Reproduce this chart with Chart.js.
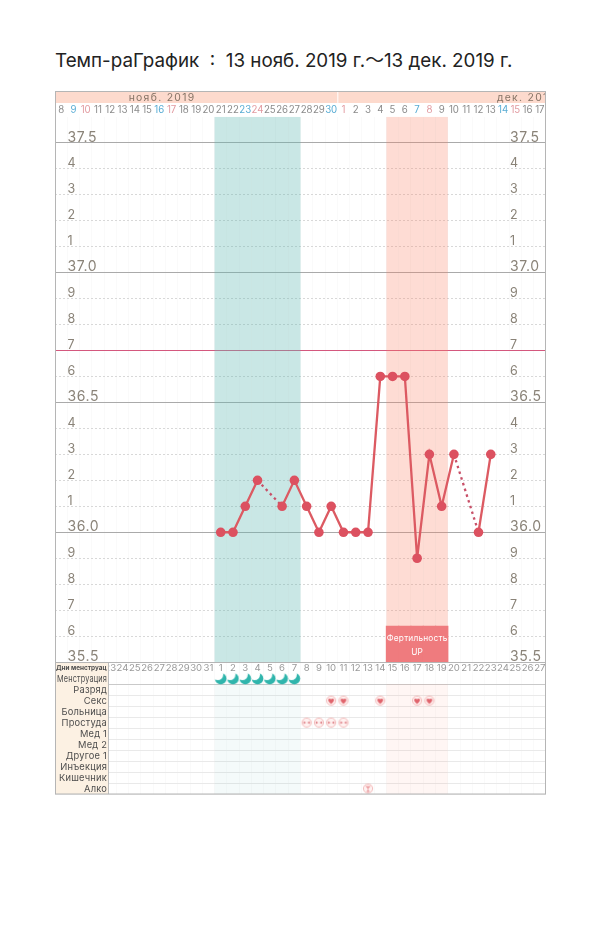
<!DOCTYPE html>
<html><head><meta charset="utf-8">
<style>
html,body{margin:0;padding:0;background:#fff;width:600px;height:938px;overflow:hidden}
#title{position:absolute;left:55px;top:48px;font:18.8px/26px Inter,"Noto Sans","Noto Sans CJK JP",sans-serif;color:#222;white-space:pre}
canvas{position:absolute;left:0;top:0}
</style>
<script src="https://cdn.jsdelivr.net/npm/chart.js@4"></script>
</head><body>
<div id="title">Темп-раГрафик  :  13 нояб. 2019 г.～13 дек. 2019 г.</div>
<canvas id="c" width="600" height="938"></canvas>
<script>
const dayLabels = ['8','9','10','11','12','13','14','15','16','17','18','19','20','21','22','23','24','25','26','27','28','29','30','1','2','3','4','5','6','7','8','9','10','11','12','13','14','15','16','17'];
const cycleLabels = [null,null,null,null,'23','24','25','26','27','28','29','30','31','1','2','3','4','5','6','7','8','9','10','11','12','13','14','15','16','17','18','19','20','21','22','23','24','25','26','27'];
const temperatures = [null,null,null,null,null,null,null,null,null,null,null,null,null,36.0,36.0,36.1,36.2,null,36.1,36.2,36.1,36.0,36.1,36.0,36.0,36.0,36.6,36.6,36.6,35.9,36.3,36.1,36.3,null,36.0,36.3,null,null,null,null];
const rowLabels = ['Дни менструац','Менструация','Разряд','Секс','Больница','Простуда','Мед 1','Мед 2','Другое 1','Инъекция','Кишечник','Алко'];
const periodCycleDays = [1,2,3,4,5,6,7];
const fertileCycleDays = [15,16,17,18,19];
const sexCycleDays = [10,11,14,17,18];
const coldCycleDays = [8,9,10,11];
const alcoholCycleDays = [13];
const coverTemp = 36.7;
const tempMin = 35.5, tempMax = 37.6, fertileTop = 35.638;
const months = [{name:'нояб. 2019',first:0,last:22,textAt:6},{name:'дек. 2019',first:23,last:39,textAt:36}];

const FONT = 'Inter,"Noto Sans",sans-serif';
const C1 = cycleLabels.indexOf('1');
const idx = d => C1 + d - 1;
const onDays = (days, v) => dayLabels.map((_, i) => days.map(idx).includes(i) ? v : null);

function icon(w, h, draw){
  const c = document.createElement('canvas'); c.width = w; c.height = h;
  draw(c.getContext('2d'), w/2, h/2); return c;
}
function ring(g,x,y){ g.beginPath(); g.arc(x,y,4.6,0,Math.PI*2); g.fillStyle='#fff2f1'; g.fill(); g.lineWidth=0.9; g.strokeStyle='#f0b4b4'; g.stroke(); }
const moon = icon(13,13,(g)=>{
  g.fillStyle='#2fb5ac'; g.beginPath(); g.arc(6.5,6.5,5.8,0,Math.PI*2); g.fill();
  g.globalCompositeOperation='destination-out';
  g.beginPath(); g.arc(3.6,2.6,5.4,0,Math.PI*2); g.fill();
});
const heart = icon(12,12,(g,x,y)=>{
  ring(g,x,y);
  g.fillStyle='#e0646c'; g.beginPath(); g.moveTo(x,y+3.2);
  g.bezierCurveTo(x-5,y-0.4,x-2.4,y-3.6,x,y-1.4);
  g.bezierCurveTo(x+2.4,y-3.6,x+5,y-0.4,x,y+3.2); g.fill();
});
const cold = icon(12,12,(g,x,y)=>{
  ring(g,x,y);
  g.fillStyle='#e0848a';
  g.beginPath(); g.moveTo(x-0.5,y); g.lineTo(x-3.2,y-1.5); g.lineTo(x-3.2,y+1.5); g.fill();
  g.beginPath(); g.moveTo(x+0.5,y); g.lineTo(x+3.2,y-1.5); g.lineTo(x+3.2,y+1.5); g.fill();
});
const glass = icon(12,12,(g,x,y)=>{
  ring(g,x,y);
  g.strokeStyle='#e0848a'; g.lineWidth=0.9; g.fillStyle='#eda0a4';
  g.beginPath(); g.moveTo(x-2.8,y-2.4); g.lineTo(x+2.8,y-2.4); g.lineTo(x,y+0.6); g.closePath(); g.fill();
  g.beginPath(); g.moveTo(x,y+0.6); g.lineTo(x,y+2.8); g.moveTo(x-1.5,y+2.9); g.lineTo(x+1.5,y+2.9); g.stroke();
});

const symbolSet = (data, pic) => ({type:'line', data, yAxisID:'rows', showLine:false, pointStyle:pic, pointRadius:5, pointHoverRadius:5, order:0});
const band = (days, range, color, yAxisID, order, inflate) => ({type:'bar', data:onDays(days, range), yAxisID, backgroundColor:color, borderWidth:0, inflateAmount:inflate, barPercentage:1, categoryPercentage:1, grouped:false, order:order});

const decor = {
  id:'decor',
  beforeDatasetsDraw(ch){
    const g = ch.ctx, x = ch.scales.x;
    g.save();
    const step = x.getPixelForValue(1) - x.getPixelForValue(0);
    months.forEach(m=>{
      const l = x.getPixelForValue(m.first) - step/2, r = x.getPixelForValue(m.last) + step/2;
      g.fillStyle = '#fddacd';
      g.fillRect(l + (m.first ? 1 : 0), 91, r - l - (m.first ? 1 : 0), 12);
    });
    g.restore();
  },
  afterDatasetsDraw(ch){
    const g = ch.ctx, x = ch.scales.x, y = ch.scales.y, rows = ch.scales.rows, a = ch.chartArea;
    const step = x.getPixelForValue(1) - x.getPixelForValue(0);
    const colRight = 108;
    g.save();
    g.font = '10.4px '+FONT; g.letterSpacing = '1.3px'; g.fillStyle = '#857365'; g.textBaseline='middle'; g.textAlign='left';
    g.save(); g.beginPath(); g.rect(a.left, 91, a.right-a.left, 12); g.clip();
    months.forEach(m => g.fillText(m.name, x.getPixelForValue(m.textAt) - step/2, 97.5));
    g.restore();
    g.fillStyle = '#8a8378';
    y.ticks.forEach(t=>{
      if (!t.label) return;
      const major = t.label.length > 1, py = y.getPixelForValue(t.value);
      g.font = (major ? '14px ' : '12.5px ') + FONT; g.letterSpacing = major ? '0.6px' : '0px';
      g.fillText(t.label, a.left + 12.5, py - 5.3);
      g.fillText(t.label, a.left + 455, py - 5.3);
    });
    const fx = (x.getPixelForValue(idx(fertileCycleDays[0])) + x.getPixelForValue(idx(fertileCycleDays[4])))/2;
    g.fillStyle='#fff'; g.textAlign='center'; g.font='8.3px '+FONT; g.letterSpacing='0.2px';
    g.fillText('Фертильность', fx, 638.5); g.fillText('UP', fx, 652.5);
    g.letterSpacing='0px'; g.font='9.6px '+FONT; g.fillStyle='#9a9a9a';
    const h0 = rows.getPixelForValue(0.5);
    g.save(); g.beginPath(); g.rect(colRight, rows.top, a.right-colRight, 11); g.clip();
    cycleLabels.forEach((s,i)=>{ if(s) g.fillText(s, x.getPixelForValue(i), h0+0.5); });
    g.restore();
    g.fillStyle='#fcf1e3'; g.fillRect(a.left, rows.top, colRight-a.left, rows.bottom-rows.top);
    g.strokeStyle='#bdbdbd'; g.lineWidth=1; g.beginPath(); g.moveTo(colRight+.5, rows.top); g.lineTo(colRight+.5, rows.bottom); g.stroke();
    g.save(); g.beginPath(); g.rect(a.left, rows.top, colRight-a.left, rows.bottom-rows.top); g.clip();
    rowLabels.forEach((s,i)=>{
      const py = rows.getPixelForValue(i+0.5);
      g.fillStyle='#4d4d4d';
      if(i===0){ g.font='bold 6.4px '+FONT; g.textAlign='left'; g.letterSpacing='0px'; g.fillText(s, a.left+1, py+0.5); }
      else { g.font='9.3px '+FONT; g.textAlign='right'; g.letterSpacing='0.2px'; g.fillText(s, colRight-1, py+1, 50); }
    });
    g.restore();
    g.strokeStyle='#b5b5b5'; g.lineWidth=1; g.letterSpacing='0px';
    g.strokeRect(a.left+.5, 91.5, a.right-a.left-1, rows.bottom-91.5);
    g.beginPath(); g.moveTo(a.left, Math.round(rows.top)+.5); g.lineTo(a.right, Math.round(rows.top)+.5); g.stroke();
    g.restore();
  }
};

const isGap = c => c.p0.skip || c.p1.skip;

new Chart(document.getElementById('c'), {
  data:{
    labels:dayLabels,
    datasets:[
      band(periodCycleDays,[tempMin,tempMax],'rgba(100,185,180,0.35)','y',5,0),
      band(fertileCycleDays,[tempMin,tempMax],'rgba(250,130,100,0.28)','y',5,0),
      band(fertileCycleDays,[tempMin,fertileTop],'#ef7b7e','y',4,0.6),
      band(periodCycleDays,[2,12],'rgba(100,185,180,0.07)','rows',5,0),
      band(fertileCycleDays,[2,12],'rgba(250,130,100,0.07)','rows',5,0),
      {type:'line',data:temperatures,yAxisID:'y',spanGaps:true,borderColor:'#dc5a62',borderWidth:2.3,backgroundColor:'#dc5160',
       pointRadius:4.8,pointBorderWidth:0,pointHoverRadius:4.8,tension:0,order:1,
       segment:{borderDash:c=>isGap(c)?[2.5,3.5]:undefined,borderColor:c=>isGap(c)?'#c85068':undefined}},
      symbolSet(onDays(periodCycleDays,1.5),moon),
      symbolSet(onDays(sexCycleDays,3.5),heart),
      symbolSet(onDays(coldCycleDays,5.5),cold),
      symbolSet(onDays(alcoholCycleDays,11.5),glass)
    ]
  },
  options:{
    responsive:false,animation:false,events:[],
    layout:{padding:{left:55,right:54,top:91,bottom:144}},
    plugins:{legend:{display:false},title:{display:false},tooltip:{enabled:false}},
    scales:{
      x:{type:'category',position:'top',offset:true,
         afterFit(s){s.height=25.7;},
         border:{display:false},
         grid:{drawTicks:false,color:'#fafafa',lineWidth:1},
         ticks:{autoSkip:false,maxRotation:0,padding:1,font:{size:9.7,family:FONT},
           color:c=>c.index%7===1?'#58acd4':c.index%7===2?'#e29aa0':'#8b8b8b'}},
      y:{type:'linear',position:'left',stack:'panels',stackWeight:546,weight:2,min:tempMin,max:tempMax,
         afterFit(s){s.width=0;},
         border:{display:false,dash:c=>{const v=Math.round(c.tick.value*10);return (v%5===0||v===Math.round(coverTemp*10))?[]:[2,2];}},
         grid:{drawTicks:false,
           color:c=>{const v=Math.round(c.tick.value*10);if(v===Math.round(tempMax*10))return 'transparent';if(v===Math.round(coverTemp*10))return '#d4587e';return v%5===0?'#aaaaaa':'#d8d8d8';},
           lineWidth:1},
         ticks:{display:false,stepSize:0.1,autoSkip:false,
           callback:v=>{const t=Math.round(v*10);if(t===Math.round(tempMax*10))return '';return t%5===0?(t/10).toFixed(1):String(t%10);}}},
      rows:{type:'linear',position:'left',stack:'panels',stackWeight:132,weight:1,min:0,max:12,reverse:true,
         afterFit(s){s.width=0;},
         border:{display:false},
         grid:{drawTicks:false,color:c=>c.tick.value===2?'#c9c9c9':(c.tick.value===1||c.tick.value===0?'transparent':'#e9e9e9'),lineWidth:1},
         ticks:{display:false,stepSize:1,autoSkip:false}}
    }
  },
  plugins:[decor]
});
</script>
</body></html>
